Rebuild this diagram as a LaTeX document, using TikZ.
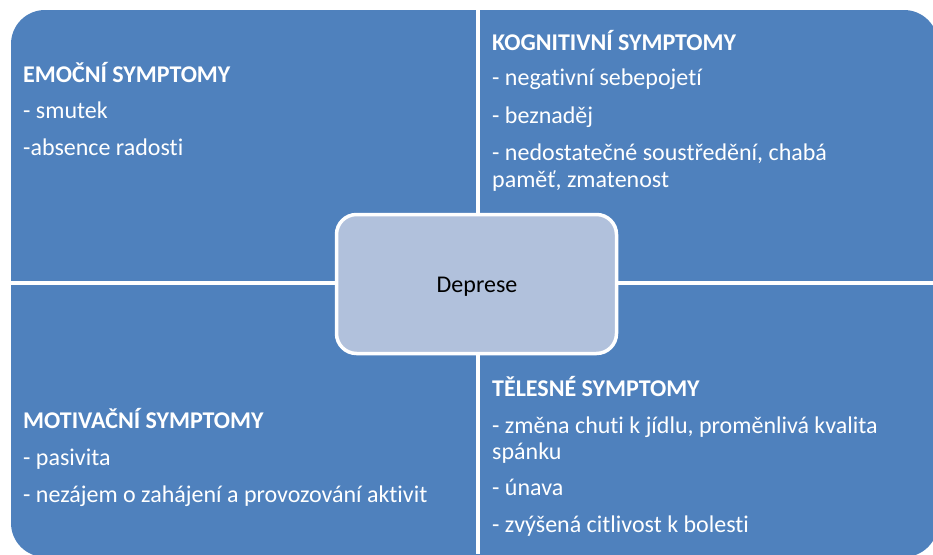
\documentclass[tikz,border=0pt]{standalone}
\usepackage{fontspec}
\setmainfont{Carlito}[RawFeature={-liga;-clig;-dlig}]
\definecolor{qblue}{HTML}{4F81BD}
\definecolor{cfill}{HTML}{B1C1DC}
\tikzset{
  txt/.style={anchor=base west, text=white, inner sep=0pt, font=\fontsize{24}{28}\selectfont},
  hd/.style={txt, font=\fontsize{24}{28}\selectfont\bfseries},
  gap/.style={draw=white, line width=4.5pt},
  center/.style={draw=white, line width=3.5pt, fill=cfill, rounded corners=20pt}
}
\begin{document}
\begin{tikzpicture}[x=1pt,y=-1pt]
\useasboundingbox (0,0) rectangle (933,554);
\begin{scope}
\clip (0,0) rectangle (933,554);
\fill[qblue, rounded corners=34pt] (11,10) rectangle (938,557);
\end{scope}
\coordinate (vt) at (478,0);
\coordinate (vb) at (478,554);
\coordinate (hl) at (0,283);
\coordinate (hr) at (933,283);
\draw[gap] (vt) -- (vb);
\draw[gap] (hl) -- (hr);
\node[center, minimum width=280pt, minimum height=139pt] (dep) at (476.5,284) {};
\node[anchor=base, inner sep=0pt, font=\fontsize{24}{28}\selectfont] (dept) at (477,292) {Deprese};
% top-left
\node[hd] (h1) at (23,82) {EMOČNÍ SYMPTOMY};
\node[txt] (a1) at (23,118) {- smutek};
\node[txt] (a2) at (23,155) {-absence radosti};
% top-right
\node[hd] (h2) at (492,50) {KOGNITIVNÍ SYMPTOMY};
\node[txt] (b1) at (492,85) {- negativní sebepojetí};
\node[txt] (b2) at (492,123) {- beznaděj};
\node[txt] (b3) at (492,160) {- nedostatečné soustředění, chabá};
\node[txt] (b4) at (492,187) {paměť, zmatenost};
% bottom-left
\node[hd] (h3) at (23,428) {MOTIVAČNÍ SYMPTOMY};
\node[txt] (c1) at (23,465) {- pasivita};
\node[txt] (c2) at (23,502) {- nezájem o zahájení a provozování aktivit};
% bottom-right
\node[hd] (h4) at (492,396) {TĚLESNÉ SYMPTOMY};
\node[txt] (d1) at (492,433) {- změna chuti k jídlu, proměnlivá kvalita};
\node[txt] (d2) at (492,459) {spánku};
\node[txt] (d3) at (492,495) {- únava};
\node[txt] (d4) at (492,532) {- zvýšená citlivost k bolesti};
\end{tikzpicture}
\end{document}
